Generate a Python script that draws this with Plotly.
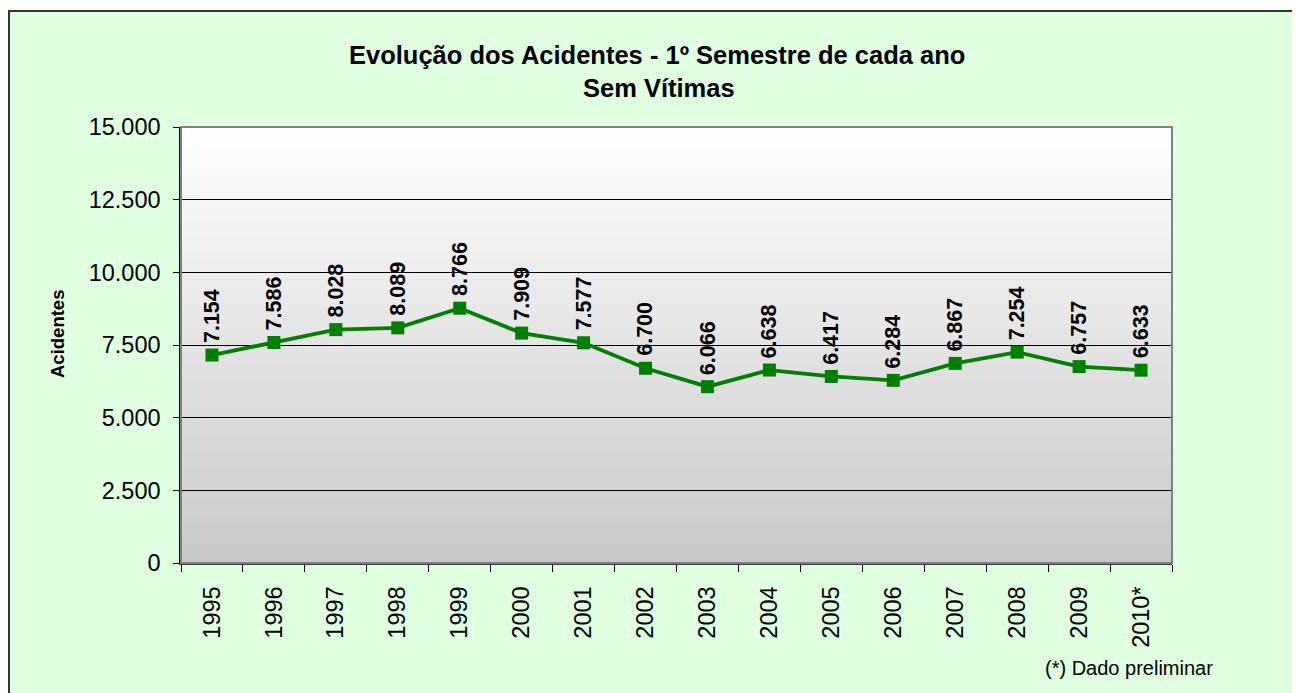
import plotly.graph_objects as go

years = ["1995", "1996", "1997", "1998", "1999", "2000", "2001", "2002",
         "2003", "2004", "2005", "2006", "2007", "2008", "2009", "2010*"]
acidentes = [7154, 7586, 8028, 8089, 8766, 7909, 7577, 6700,
             6066, 6638, 6417, 6284, 6867, 7254, 6757, 6633]
y_ticks = [0, 2500, 5000, 7500, 10000, 12500, 15000]

OFF = 8  # page body margin
W, H = 1300 - OFF, 693 - OFF
# plot area in page pixels
L, R, T, B = 181, 1172, 127, 563


def px(x):
    return (x - L) / (R - L)


def py(y):
    return (B - y) / (B - T)


FONT = "Liberation Sans, Arial, sans-serif"
GREEN = "#008000"

fig = go.Figure()
fig.add_trace(go.Scatter(
    x=years, y=acidentes, mode="lines+markers",
    line=dict(color=GREEN, width=3.8),
    marker=dict(symbol="square", size=13, color=GREEN),
    hoverinfo="x+y", showlegend=False,
))

shapes = []
shapes.append(dict(type="rect", xref="paper", yref="paper",
                   x0=px(9), x1=px(1298), y0=py(720), y1=py(11),
                   fillcolor="#E0FFE0", line=dict(color="#333333", width=2),
                   layer="below"))
n = 80
top_c, bot_c = 255, 200
for i in range(n):
    f0 = i / n
    f1 = (i + 1) / n
    t = (i + 0.5) / n
    c = round(bot_c + (top_c - bot_c) * t)
    shapes.append(dict(type="rect", xref="x domain", yref="y domain",
                       x0=0, x1=1, y0=f0, y1=f1 + 0.002,
                       fillcolor=f"rgb({c},{c},{c})", line=dict(width=0),
                       layer="below"))
shapes.append(dict(type="rect", xref="x domain", yref="y domain",
                   x0=0, x1=1, y0=0, y1=1,
                   line=dict(color="#808080", width=2), layer="above"))

annotations = []
for i, v in enumerate(acidentes):
    annotations.append(dict(
        x=i, y=v, xref="x", yref="y", text=f"{v:,}".replace(",", "."),
        textangle=-90, showarrow=False, yanchor="bottom", xanchor="center",
        yshift=10, font=dict(family=FONT, size=21.5, color="black", weight="bold"),
    ))
annotations += [
    dict(x=px(657), y=py(55), xref="paper", yref="paper", showarrow=False,
         text="Evolução dos Acidentes - 1º Semestre de cada ano",
         font=dict(family=FONT, size=25.5, color="black", weight="bold"),
         xanchor="center", yanchor="middle"),
    dict(x=px(659), y=py(88), xref="paper", yref="paper", showarrow=False,
         text="Sem Vítimas",
         font=dict(family=FONT, size=25.5, color="black", weight="bold"),
         xanchor="center", yanchor="middle"),
    dict(x=px(57), y=py(334), xref="paper", yref="paper", showarrow=False,
         text="Acidentes", textangle=-90,
         font=dict(family=FONT, size=18.5, color="black", weight="bold"),
         xanchor="center", yanchor="middle"),
    dict(x=px(1129), y=py(668), xref="paper", yref="paper", showarrow=False,
         text="(*) Dado preliminar",
         font=dict(family=FONT, size=20, color="black"),
         xanchor="center", yanchor="middle"),
]

fig.update_layout(
    width=W, height=H,
    margin=dict(l=L - OFF, r=W - (R - OFF), t=T - OFF, b=H - (B - OFF), pad=0),
    paper_bgcolor="white", plot_bgcolor="rgba(0,0,0,0)",
    separators=",.",
    shapes=shapes, annotations=annotations,
    xaxis=dict(
        type="category", categoryorder="array", categoryarray=years,
        range=[-0.5, len(years) - 0.5],
        tickangle=-90, tickson="boundaries", ticks="outside", ticklen=7,
        tickcolor="black", tickwidth=1,
        showline=True, linecolor="#404040", linewidth=2,
        showgrid=False, zeroline=False,
        tickfont=dict(family=FONT, size=23.5, color="black"),
        ticklabelstandoff=12,
    ),
    yaxis=dict(
        range=[0, 15000], tickvals=y_ticks,
        ticktext=[f"{v:,}".replace(",", ".") for v in y_ticks],
        ticks="outside", ticklen=6, tickcolor="black", tickwidth=1,
        showline=True, linecolor="black", linewidth=1.5,
        showgrid=True, gridcolor="black", gridwidth=1, zeroline=False,
        tickfont=dict(family=FONT, size=23.5, color="black"),
        ticklabelstandoff=8,
    ),
)

fig.write_html("out.html")
